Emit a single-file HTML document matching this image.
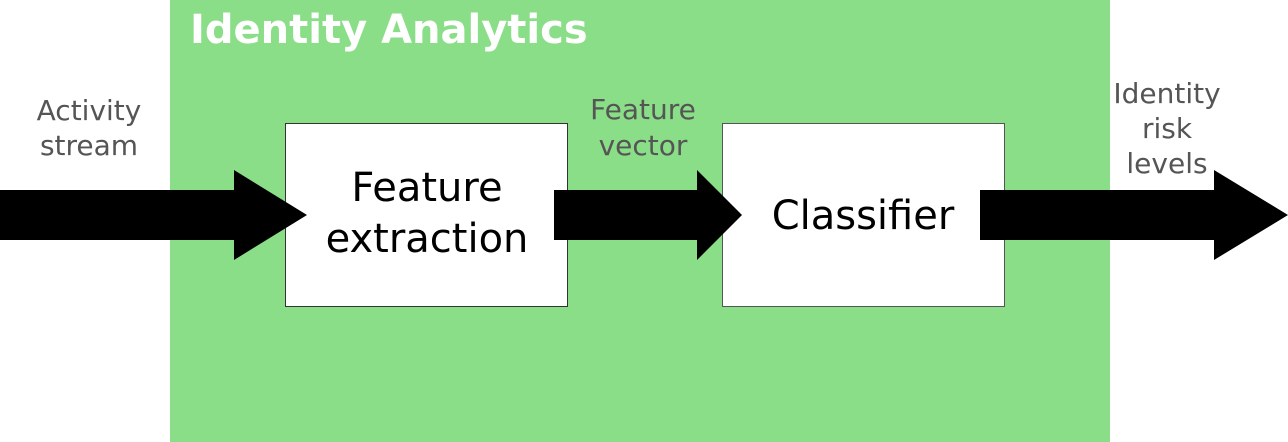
<!DOCTYPE html>
<html><head><meta charset="utf-8"><style>
html,body{margin:0;padding:0;background:#fff;}
svg{display:block;}
text{font-family:"DejaVu Sans","Liberation Sans",sans-serif;}
</style></head><body>
<svg width="1288" height="442" viewBox="0 0 1288 442" xmlns="http://www.w3.org/2000/svg">
<rect x="170" y="0" width="940" height="442" fill="#8ade87"/>
<text x="190" y="43" font-size="40" font-weight="bold" fill="#fff">Identity Analytics</text>
<rect x="285.5" y="123.5" width="282" height="183" fill="#fff" stroke="#333" stroke-width="1"/>
<rect x="722.5" y="123.5" width="282" height="183" fill="#fff" stroke="#555" stroke-width="1"/>
<polygon points="0,190 234,190 234,170 307,215 234,260 234,240 0,240" fill="#000"/>
<polygon points="554,190 697,190 697,170 742,215 697,260 697,240 554,240" fill="#000"/>
<polygon points="980,190 1214,190 1214,170 1288,215 1214,260 1214,240 980,240" fill="#000"/>
<g font-size="28" fill="#555" text-anchor="middle">
<text x="89" y="120">Activity</text>
<text x="89" y="155">stream</text>
<text x="643" y="119">Feature</text>
<text x="643" y="155">vector</text>
<text x="1167" y="103">Identity</text>
<text x="1167" y="138">risk</text>
<text x="1167" y="173">levels</text>
</g>
<g font-size="40" fill="#000" text-anchor="middle">
<text x="427" y="201">Feature</text>
<text x="427" y="252">extraction</text>
<text x="863" y="229">Classifier</text>
</g>
</svg>
</body></html>
